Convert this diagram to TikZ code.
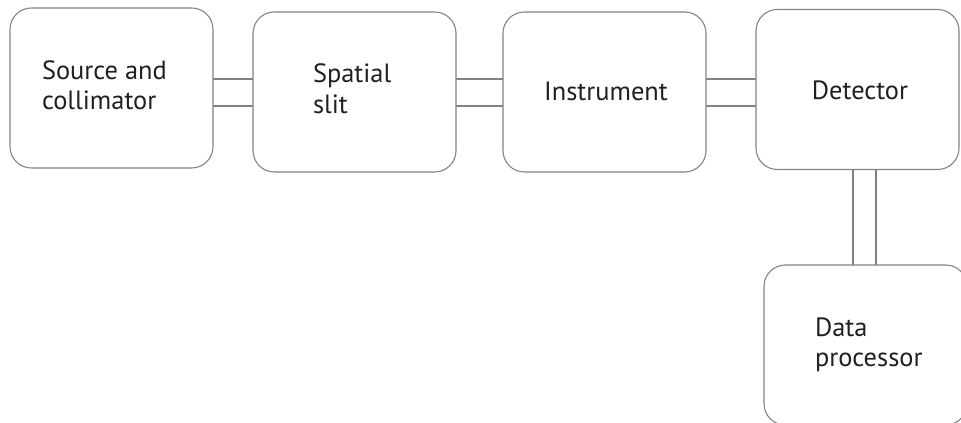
\documentclass[tikz,border=0pt]{standalone}
\usepackage{fontspec}
\setmainfont{PT Sans}
\definecolor{txt}{HTML}{231F20}
\definecolor{ln}{HTML}{828282}
\begin{document}
\begin{tikzpicture}[x=0.75pt,y=-0.75pt,
  blockbox/.style={draw=ln,line width=0.8pt,rectangle,rounded corners=16pt,
    minimum width=152.25pt,minimum height=120pt,inner sep=0pt,outer sep=0pt},
  lbl/.style={font=\fontsize{19.8pt}{22.5pt}\selectfont,text=txt,inner sep=0pt,outer sep=0pt},
  link/.style={draw=ln,line width=0.8pt}]
\clip (0,0) rectangle (961,423);
\fill[white] (0,0) rectangle (961,423);
\node[blockbox] (b1) at (111.5,88) {};
\node[blockbox] (b2) at (354.5,92) {};
\node[blockbox] (b3) at (604.5,92) {};
\node[blockbox] (b4) at (857.5,89.5) {};
\node[blockbox] (b5) at (865.5,345) {};
\node[lbl,anchor=base west] (t1a) at (42,80) {Source and};
\node[lbl,anchor=base west] (t1b) at (42,110) {collimator};
\node[lbl,anchor=base west] (t2a) at (313,83) {Spatial};
\node[lbl,anchor=base west] (t2b) at (313,114) {slit};
\node[lbl,anchor=base] (t3) at (606,101) {Instrument};
\node[lbl,anchor=base] (t4) at (860,100) {Detector};
\node[lbl,anchor=base west] (t5a) at (815,337) {Data};
\node[lbl,anchor=base west] (t5b) at (815,367) {processor};
\foreach \a/\b in {b1/b2,b2/b3,b3/b4}{
  \draw[link] (\a.east |- 0,79) -- (\b.west |- 0,79);
  \draw[link] (\a.east |- 0,106) -- (\b.west |- 0,106);
}
\draw[link] (b4.south -| 853,0) -- (b5.north -| 853,0);
\draw[link] (b4.south -| 876,0) -- (b5.north -| 876,0);
\end{tikzpicture}
\end{document}
